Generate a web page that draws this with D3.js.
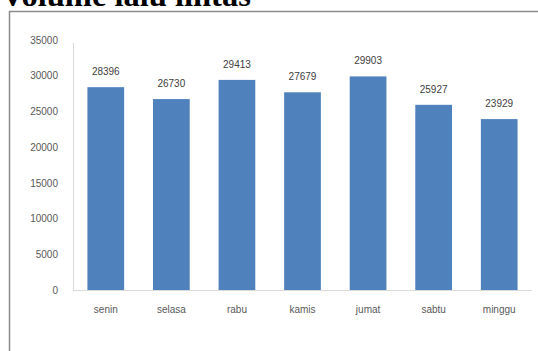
<!DOCTYPE html>
<html>
<head>
<meta charset="utf-8">
<script src="https://cdn.jsdelivr.net/npm/d3@7"></script>
<style>
  html, body { margin: 0; padding: 0; background: #fff; }
  svg { display: block; }
</style>
</head>
<body>
<svg id="chart" width="538" height="351"></svg>
<script>
// Daily traffic volume
const days = ["senin", "selasa", "rabu", "kamis", "jumat", "sabtu", "minggu"];
const volumes = [28396, 26730, 29413, 27679, 29903, 25927, 23929];
const yTicks = [0, 5000, 10000, 15000, 20000, 25000, 30000, 35000];
const titleText = "Volume lalu lintas";

const svg = d3.select("#chart");
const W = 538, H = 351;
const plot = { left: 73, right: 532, top: 40, bottom: 290 };

// Title (sits above the chart frame)
svg.append("text")
  .attr("x", 1)
  .attr("y", 6)
  .attr("font-family", "Liberation Serif, Times New Roman, serif")
  .attr("font-weight", "bold")
  .attr("font-size", 32.5)
  .attr("fill", "#000")
  .text(titleText);

// Chart frame
svg.append("rect")
  .attr("x", 9.5)
  .attr("y", 11.5)
  .attr("width", W + 10)
  .attr("height", H + 10)
  .attr("fill", "#fff")
  .attr("stroke", "#8c8c8c")
  .attr("stroke-width", 1.5);

const x = d3.scaleBand()
  .domain(days)
  .range([plot.left, plot.right])
  .paddingInner(0.44)
  .paddingOuter(0.22);

const y = d3.scaleLinear()
  .domain([0, 35000])
  .range([plot.bottom, plot.top]);

const labelFont = "Liberation Sans, Arial, sans-serif";

// Y axis
const yAxis = svg.append("g")
  .attr("transform", `translate(${plot.left},0)`)
  .call(d3.axisLeft(y).tickValues(yTicks).tickSize(0).tickPadding(15).tickFormat(d3.format("d")));
yAxis.select(".domain").attr("stroke", "#d9d9d9").attr("d", `M0.5,${y(35000) + 3}V${plot.bottom}`);
yAxis.selectAll("text")
  .attr("font-family", labelFont)
  .attr("font-size", 10)
  .attr("fill", "#595959");

// X axis
const xAxis = svg.append("g")
  .attr("transform", `translate(0,${plot.bottom})`)
  .call(d3.axisBottom(x).tickSize(0).tickPadding(16));
xAxis.select(".domain").attr("stroke", "#d9d9d9").attr("d", `M${plot.left},0.5H${plot.right}`);
xAxis.selectAll("text")
  .attr("font-family", labelFont)
  .attr("font-size", 10)
  .attr("fill", "#595959");

// Bars
svg.append("g").selectAll("rect")
  .data(days)
  .join("rect")
  .attr("x", d => x(d))
  .attr("y", (d, i) => y(volumes[i]))
  .attr("width", x.bandwidth())
  .attr("height", (d, i) => y(0) - y(volumes[i]))
  .attr("fill", "#4f81bd");

// Value labels
svg.append("g").selectAll("text")
  .data(days)
  .join("text")
  .attr("x", d => x(d) + x.bandwidth() / 2)
  .attr("y", (d, i) => y(volumes[i]) - 12)
  .attr("text-anchor", "middle")
  .attr("font-family", labelFont)
  .attr("font-size", 10)
  .attr("fill", "#404040")
  .text((d, i) => volumes[i]);
</script>
</body>
</html>
